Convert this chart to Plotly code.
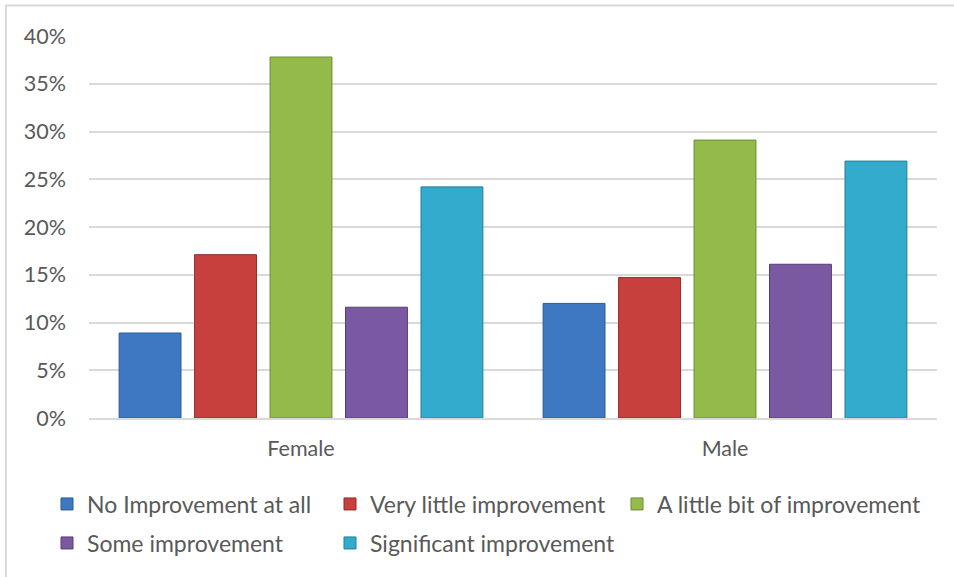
import plotly.graph_objects as go

categories = ["Female", "Male"]
series_names = [
    "No Improvement at all",
    "Very little improvement",
    "A little bit of improvement",
    "Some improvement",
    "Significant improvement",
]
no_improvement = [0.089, 0.120]
very_little = [0.171, 0.147]
little_bit = [0.378, 0.291]
some_improvement = [0.116, 0.161]
significant = [0.242, 0.269]
y_tick_values = [0, 0.05, 0.10, 0.15, 0.20, 0.25, 0.30, 0.35, 0.40]

series_values = [no_improvement, very_little, little_bit, some_improvement, significant]
fill_colors = ["#3E78C2", "#C8403E", "#94BA4A", "#7A59A2", "#33ABCC"]
edge_colors = ["#2A5A96", "#8E2A29", "#6B8C30", "#553D78", "#217F99"]

W, H = 954, 577
PL, PR, PT, PB = 89, 937, 36, 418          # target plot box on screen
pw, ph = PR - PL, PB - PT
L, T = PL, PT
R = W - L - pw
B = H - T - ph

def px_x(x):
    return (x - PL) / pw

def px_y(y):
    return (PB - y) / ph

# legend placement (screen pixel positions of the text start and row centers)
legend_pos = [(87, 504), (370, 504), (657, 504), (87, 543), (370, 543)]

FONT = "Lato"
AX_SIZE = 21.5
LEG_SIZE = 23
fig = go.Figure()
legend_layouts = {}
for i, (name, vals) in enumerate(zip(series_names, series_values)):
    lname = "legend" if i == 0 else f"legend{i + 1}"
    fig.add_trace(go.Bar(
        x=categories, y=vals, name=name,
        marker=dict(color=fill_colors[i], line=dict(color=edge_colors[i], width=1)),
        legend=lname,
    ))
    tx, ty = legend_pos[i]
    legend_layouts[lname] = dict(
        x=px_x(tx - 40), y=px_y(ty), xanchor="left", yanchor="middle",
        orientation="h", bgcolor="rgba(0,0,0,0)",
        font=dict(family=FONT, size=LEG_SIZE, color="#595959"),
    )

fig.update_layout(
    width=W, height=H,
    margin=dict(l=L, r=R, t=T, b=B),
    paper_bgcolor="white", plot_bgcolor="white",
    barmode="group", bargap=0.11, bargroupgap=0.18,
    font=dict(family=FONT, size=AX_SIZE, color="#595959"),
    showlegend=True,
    **legend_layouts,
)
fig.update_yaxes(
    range=[0, 0.4], tickvals=y_tick_values, tickformat=".0%",
    showgrid=True, gridcolor="#D9D9D9", gridwidth=1.5,
    zeroline=False, showline=False, ticks="",
    ticklabelstandoff=22,
    tickfont=dict(family=FONT, size=AX_SIZE, color="#595959"),
)
fig.update_xaxes(
    showline=True, linecolor="#D9D9D9", linewidth=1.5,
    showgrid=False, ticks="", ticklabelstandoff=10,
    tickfont=dict(family=FONT, size=AX_SIZE, color="#595959"),
)
fig.add_shape(
    type="rect", xref="paper", yref="paper",
    x0=px_x(6), x1=px_x(980), y0=px_y(600), y1=px_y(5.5),
    line=dict(color="#D9D9D9", width=2), fillcolor="rgba(0,0,0,0)",
    layer="below",
)

fig.write_html(
    "out.html",
    config={"displayModeBar": False},
    post_script="document.body.style.margin='0px';",
)
